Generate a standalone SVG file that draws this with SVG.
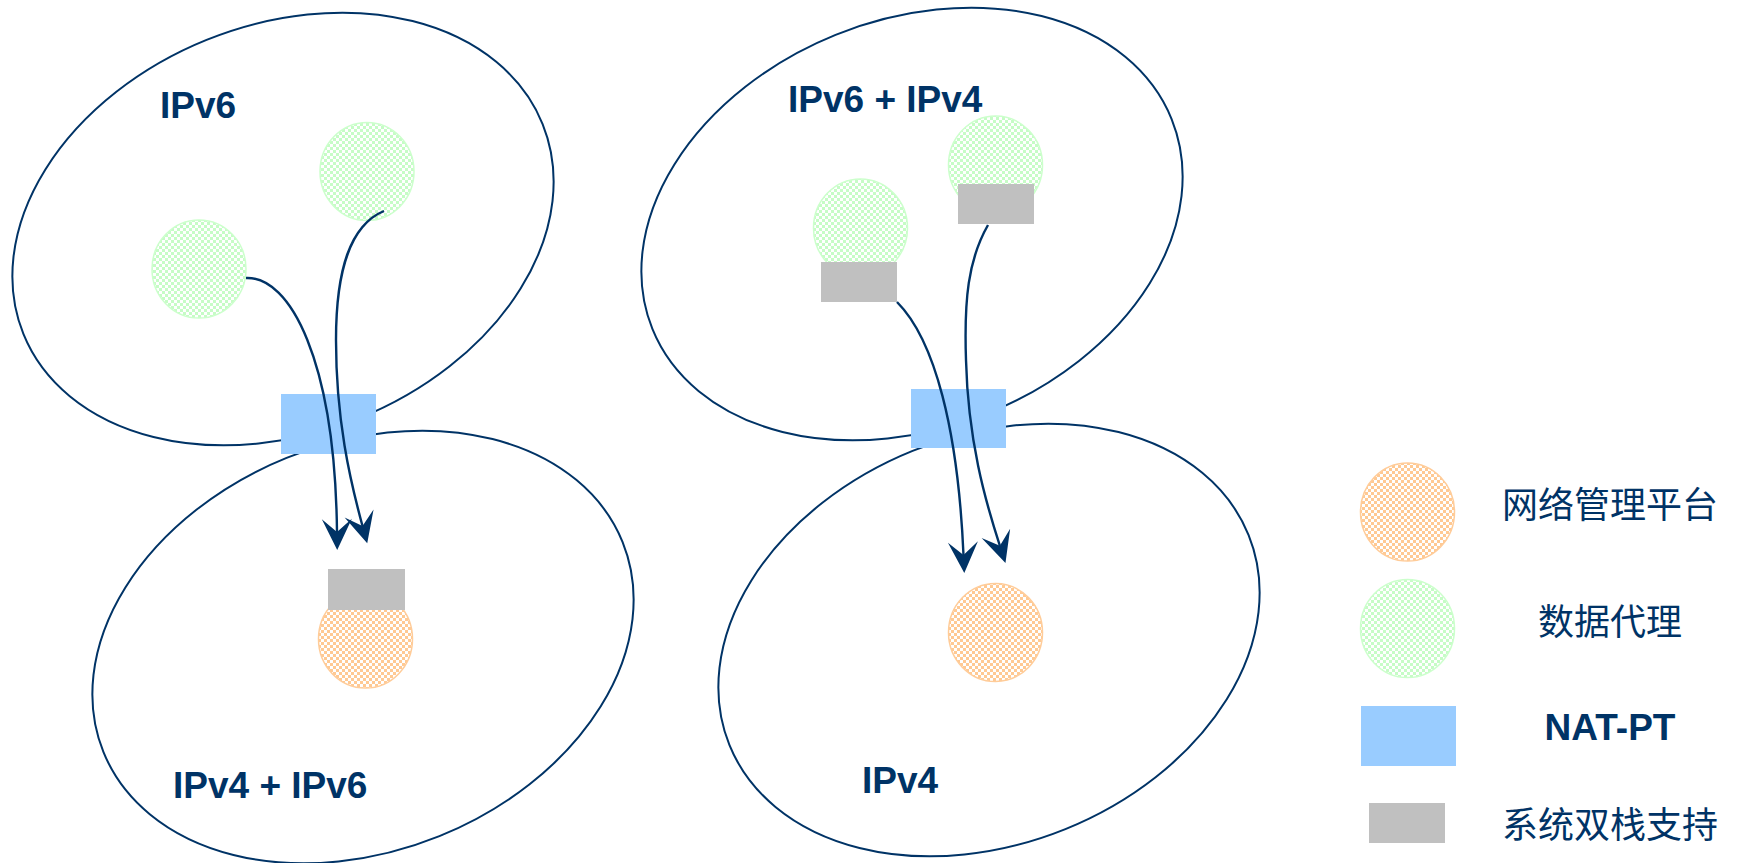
<svg xmlns="http://www.w3.org/2000/svg" width="1739" height="863" viewBox="0 0 1739 863">
<defs>
<pattern id="pg" width="6" height="6" patternUnits="userSpaceOnUse">
<rect width="6" height="6" fill="#c6fcc6"/>
<rect x="0" y="0" width="3" height="3" fill="#ffffff"/>
<rect x="3" y="3" width="3" height="3" fill="#ffffff"/>
</pattern>
<pattern id="po" width="6" height="6" patternUnits="userSpaceOnUse">
<rect width="6" height="6" fill="#ffc993"/>
<rect x="0" y="0" width="3" height="3" fill="#ffffff"/>
<rect x="3" y="3" width="3" height="3" fill="#ffffff"/>
</pattern>
<marker id="arr" markerUnits="userSpaceOnUse" markerWidth="40" markerHeight="40" viewBox="-20 -20 40 40" refX="0" refY="0" orient="auto">
<path d="M18,0 L-13,-15 L0,0 L-13,15 Z" fill="#003366"/>
</marker>
<style>
.zone{fill:none;stroke:#003366;stroke-width:2}
.agent{fill:url(#pg);stroke:#ccffcc;stroke-width:1.5}
.mgr{fill:url(#po);stroke:#ffcc99;stroke-width:1.5}
.nat{fill:#99ccff}
.ds{fill:#c0c0c0}
.lbl{font-family:"Liberation Sans",Arial,sans-serif;font-weight:bold;font-size:37px;fill:#003366}
.cn{font-family:"Noto Sans CJK SC","Noto Sans",sans-serif;font-size:36px;fill:#003366;text-anchor:middle}
.flow{fill:none;stroke:#003366;stroke-width:2.4;marker-end:url(#arr)}
</style>
</defs>
<rect width="1739" height="863" fill="#ffffff"/>

<g id="zone-ipv6">
<ellipse class="zone" cx="283" cy="229" rx="280" ry="204" transform="rotate(-22 283 229)"/>
<text class="lbl" x="160" y="118">IPv6</text>
</g>
<g id="zone-ipv4-ipv6">
<ellipse class="zone" cx="363" cy="647" rx="280" ry="204" transform="rotate(-22 363 647)"/>
<text class="lbl" x="173" y="798">IPv4 + IPv6</text>
</g>
<g id="zone-ipv6-ipv4">
<ellipse class="zone" cx="912" cy="224" rx="280" ry="204" transform="rotate(-22 912 224)"/>
<text class="lbl" x="788" y="112">IPv6 + IPv4</text>
</g>
<g id="zone-ipv4">
<ellipse class="zone" cx="989" cy="640" rx="280" ry="204" transform="rotate(-22 989 640)"/>
<text class="lbl" x="862" y="793">IPv4</text>
</g>

<g id="agent-l1"><ellipse class="agent" cx="367" cy="171.5" rx="47" ry="49"/></g>
<g id="agent-l2"><ellipse class="agent" cx="199" cy="269" rx="47" ry="49"/></g>
<g id="mgr-l">
<ellipse class="mgr" cx="365.5" cy="639" rx="47" ry="49"/>
<rect class="ds" x="328" y="569" width="77" height="41"/>
</g>
<g id="agent-r1">
<ellipse class="agent" cx="860.5" cy="228" rx="47" ry="49"/>
<rect class="ds" x="821" y="262" width="76" height="40"/>
</g>
<g id="agent-r2">
<ellipse class="agent" cx="995.5" cy="165" rx="47" ry="49"/>
<rect class="ds" x="958" y="184" width="76" height="40"/>
</g>
<g id="mgr-r"><ellipse class="mgr" cx="995.5" cy="632.5" rx="47" ry="49"/></g>
<g id="nat-l"><rect class="nat" x="281" y="394" width="95" height="60"/></g>
<g id="nat-r"><rect class="nat" x="911" y="389" width="95" height="59"/></g>

<g id="connectors">
<path class="flow" d="M246,278 C290,276 335,360 337,532"/>
<path class="flow" d="M384,211 C350,225 336,270 336,340 C336,420 350,480 362.5,526"/>
<path class="flow" d="M897,302 C935,340 958,430 963.5,555"/>
<path class="flow" d="M988,225 C968,260 964,300 966,360 C968,440 985,500 999.9,545.8"/>
</g>

<g id="legend">
<g id="legend-mgr">
<ellipse class="mgr" cx="1407.5" cy="512" rx="47" ry="49"/>
<text class="cn" x="1610" y="518">网络管理平台</text>
</g>
<g id="legend-agent">
<ellipse class="agent" cx="1407.5" cy="628.5" rx="47" ry="49"/>
<text class="cn" x="1610" y="635">数据代理</text>
</g>
<g id="legend-nat">
<rect class="nat" x="1361" y="706" width="95" height="60"/>
<text class="lbl" x="1610" y="740" text-anchor="middle">NAT-PT</text>
</g>
<g id="legend-ds">
<rect class="ds" x="1369" y="803" width="76" height="40"/>
<text class="cn" x="1610" y="838">系统双栈支持</text>
</g>
</g>
</svg>
